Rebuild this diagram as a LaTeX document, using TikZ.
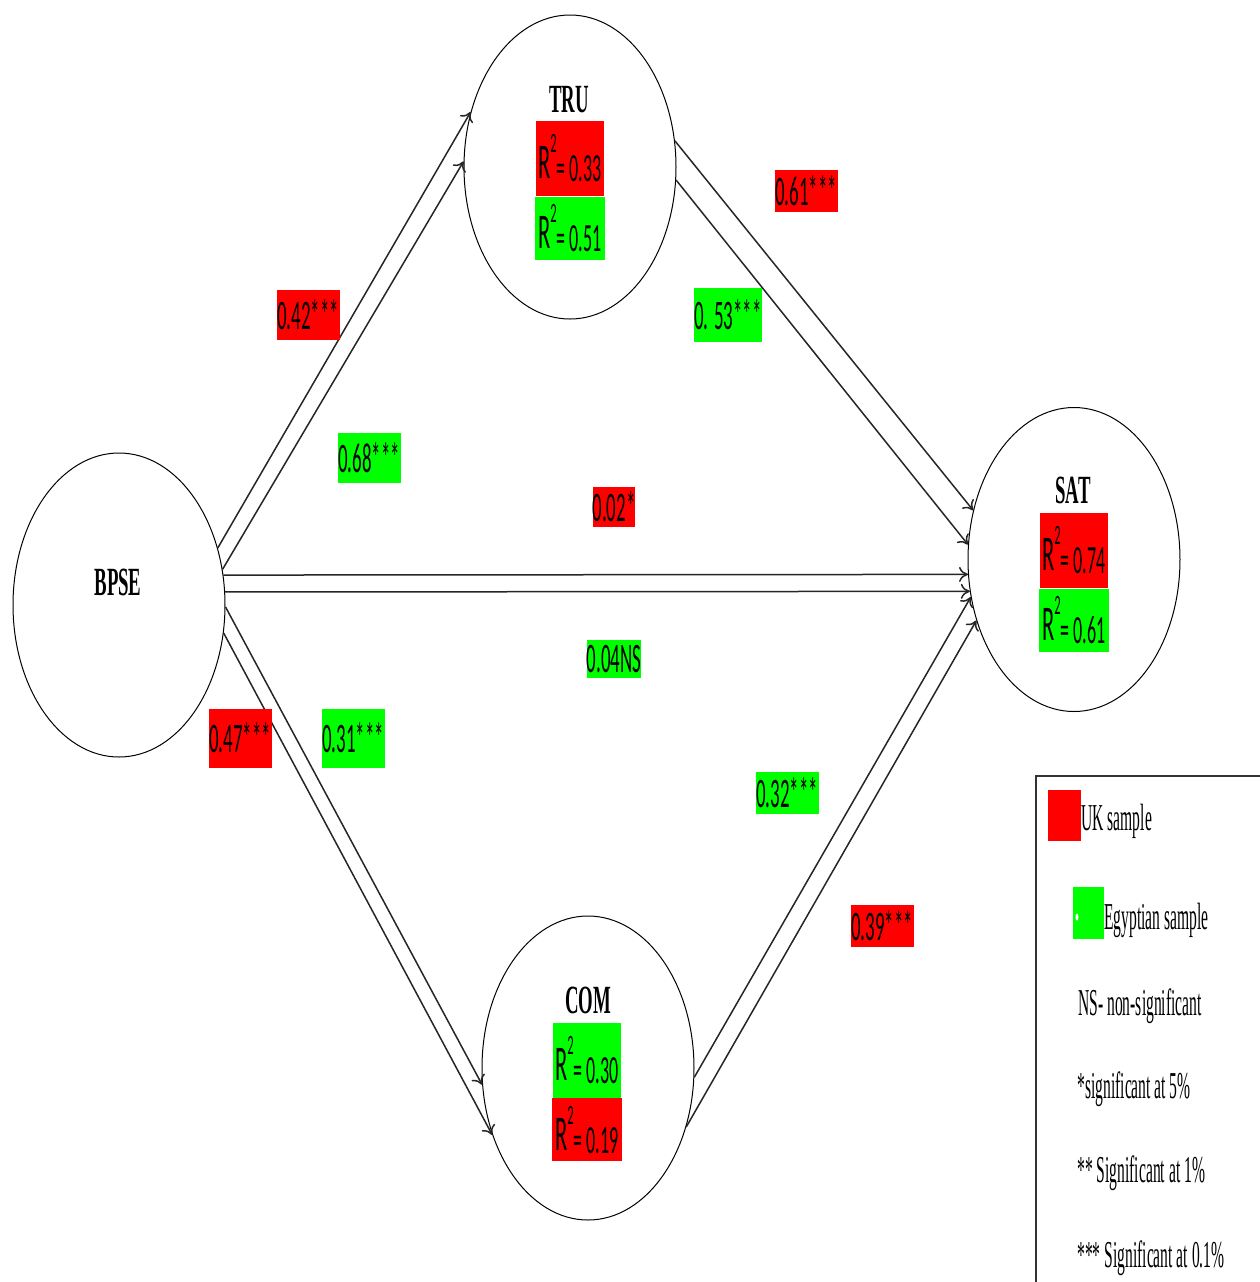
\documentclass[tikz,border=0pt]{standalone}
\usepackage{fontspec}
\usepackage{tikz}
\usetikzlibrary{shapes.geometric, arrows.meta, positioning}
\newfontfamily\numfont[FakeStretch=0.45]{Carlito}
\newfontfamily\namefont[FakeStretch=0.47]{Liberation Serif}
\newfontfamily\keyfont[FakeStretch=0.41]{Liberation Serif}
\definecolor{ukred}{RGB}{255,0,0}
\definecolor{eggreen}{RGB}{0,255,0}
\tikzstyle{arrow} = [line width=0.75pt, draw=black!85, -{To[length=4.5pt,width=7.5pt]}]
\tikzstyle{latent} = [ellipse, draw, line width=0.5pt, minimum width=106pt, minimum height=152pt, inner sep=0pt]
\newcommand{\rsq}[1]{{\fontsize{25}{25}\selectfont R}\raisebox{13pt}{\fontsize{14}{14}\selectfont 2}\raisebox{-1.5pt}{\fontsize{20}{20}\selectfont = #1}}

\begin{document}
\begin{tikzpicture}[x=0.5pt, y=-0.5pt,
    coef/.style={font=\numfont\fontsize{21}{21}\selectfont, inner sep=0pt, minimum width=31.5pt, minimum height=25pt},
    rtop/.style={font=\numfont, inner sep=0pt, minimum width=34pt, minimum height=37.5pt},
    rbot/.style={font=\numfont, inner sep=0pt, minimum width=35pt, minimum height=31.5pt},
    construct/.style={font=\namefont\bfseries\fontsize{20}{20}\selectfont, inner sep=0pt},
    keytext/.style={font=\keyfont\fontsize{19}{19}\selectfont, inner sep=0pt, anchor=base west}]
        \useasboundingbox (0,0) rectangle (1260,1282);

        % Constructs
        \node[latent] (BPSE) at (119,605) {};
        \node[latent] (TRU) at (570,167) {};
        \node[latent] (SAT) at (1074,559.5) {};
        \node[latent] (COM) at (588,1068) {};

        \node[construct] (BPSEt) at (118,582) {BPSE};
        \node[construct] (TRUt) at (569,100) {TRU};
        \node[construct] (SATt) at (1073,490) {SAT};
        \node[construct] (COMt) at (588,1000) {COM};

        % R squared
        \node[rtop, fill=ukred] (TRUuk) at (570,158.5) {\rsq{0.33}};
        \node[rbot, fill=eggreen, below=0pt of TRUuk] (TRUeg) {\rsq{0.51}};
        \node[rtop, fill=ukred] (SATuk) at (1074,550.5) {\rsq{0.74}};
        \node[rbot, fill=eggreen, below=0pt of SATuk] (SATeg) {\rsq{0.61}};
        \node[rtop, fill=eggreen] (COMeg) at (587,1060) {\rsq{0.30}};
        \node[rbot, fill=ukred, below=0pt of COMeg] (COMuk) {\rsq{0.19}};

        % Paths
        \draw[arrow] (BPSE.30.4) -- (TRU.151.6);
        \draw[arrow] (BPSE.19.7) -- (TRU.177);
        \draw[arrow] (BPSE.16.1) -- (SAT.188.4);
        \draw[arrow] (BPSE.7) -- (SAT.197.4);
        \draw[arrow] (BPSE.359) -- (COM.189.8);
        \draw[arrow] (BPSE.345) -- (COM.215.8);
        \draw[arrow] (TRU.14) -- (SAT.154.5);
        \draw[arrow] (TRU.353.1) -- (SAT.172.4);
        \draw[arrow] (COM.355.1) -- (SAT.200.6);
        \draw[arrow] (COM.329) -- (SAT.212.7);

        % Coefficients
        \node[coef, fill=ukred] (BTuk) at (308,315) {0.42***};
        \node[coef, fill=eggreen] (BTeg) at (369,458) {0.68***};
        \node[coef, fill=ukred, minimum height=21pt] (TSuk) at (806,191) {0.61***};
        \node[coef, fill=eggreen, minimum width=33.5pt, minimum height=27pt] (TSeg) at (728,315) {0. 53***};
        \node[coef, fill=ukred, minimum width=21pt, minimum height=20pt] (BSuk) at (614,507) {0.02*};
        \node[coef, fill=eggreen, minimum width=27pt, minimum height=19pt] (BSeg) at (614,659) {0.04NS};
        \node[coef, fill=ukred, minimum height=29.5pt] (BCuk) at (240,738) {0.47***};
        \node[coef, fill=eggreen, minimum height=29.5pt] (BCeg) at (353,738) {0.31***};
        \node[coef, fill=eggreen, minimum height=21pt] (CSeg) at (787,793) {0.32***};
        \node[coef, fill=ukred, minimum height=21pt] (CSuk) at (882,926) {0.39***};

        % Key
        \draw[line width=0.9pt, draw=black!80] (1262,776) -- (1036,776) -- (1036,1284);
        \node[fill=ukred, inner sep=0pt, minimum width=16.5pt, minimum height=25.5pt] (ukbox) at (1064.5,815.5) {};
        \node[keytext] (uktext) at (1081,830) {UK sample};
        \node[fill=eggreen, inner sep=0pt, minimum width=15.5pt, minimum height=26pt] (egbox) at (1088.5,913) {};
        \fill[white] (1077,917) ellipse (1.5 and 3.5);
        \node[keytext] (egtext) at (1104,929) {Egyptian sample};
        \node[keytext] (nstext) at (1078,1015) {NS- non-significant};
        \node[keytext] (s1text) at (1077,1098) {*significant at 5\%};
        \node[keytext] (s2text) at (1077,1182) {** Significant at 1\%};
        \node[keytext] (s3text) at (1077,1267) {*** Significant at 0.1\%};
      \end{tikzpicture}
\end{document}
